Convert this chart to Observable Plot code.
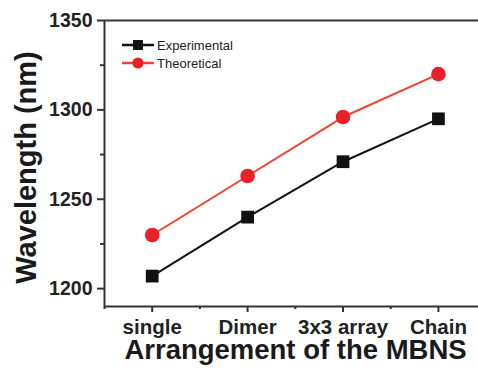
<!DOCTYPE html>
<html>
<head>
<meta charset="utf-8">
<script src="https://cdn.jsdelivr.net/npm/d3@7"></script>
<script src="https://cdn.jsdelivr.net/npm/@observablehq/plot@0.6"></script>
<style>
  html, body { margin: 0; padding: 0; background: #fff; }
  #chart svg { display: block; }
</style>
</head>
<body>
<div id="chart"></div>
<script>
// Resonance wavelength for each MBNS arrangement
const categories = ["single", "Dimer", "3x3 array", "Chain"];
const experimental = [1207, 1240, 1271, 1295];
const theoretical = [1230, 1263, 1296, 1320];
const yTicks = [1200, 1250, 1300, 1350];
const yMinorTicks = [1225, 1275, 1325];
const seriesNames = ["Experimental", "Theoretical"];

const expColor = "#111111";
const theoLine = "#f0432e";
const theoDot = "#e8202a";
const axisColor = "#333333";
const font = "'Liberation Sans', Arial, sans-serif";

const expData = categories.map((c, i) => ({i, value: experimental[i]}));
const theoData = categories.map((c, i) => ({i, value: theoretical[i]}));

const chart = Plot.plot({
  width: 478,
  height: 374,
  marginLeft: 104,
  marginRight: 0,
  marginTop: 20,
  marginBottom: 68,
  style: {fontFamily: font, color: "#222", background: "#fff"},
  x: {domain: [-0.5, 3.42]},
  y: {domain: [1190, 1350]},
  marks: [
    // frame lines: left, top and bottom
    Plot.ruleX([-0.5], {stroke: axisColor, strokeWidth: 2}),
    Plot.ruleY([1190, 1350], {stroke: axisColor, strokeWidth: 2}),
    // y axis
    Plot.axisY({
      ticks: yTicks, tickSize: 7, tickPadding: 5, tickFormat: d => String(d),
      stroke: axisColor, strokeWidth: 2, fontSize: 19.5, fontWeight: "bold",
      fill: "#222", label: null
    }),
    Plot.axisY({ticks: yMinorTicks, tickSize: 4, tickFormat: () => "", stroke: axisColor, strokeWidth: 2, label: null}),
    // x axis
    Plot.axisX({
      ticks: [0, 1, 2, 3], tickSize: 6, tickPadding: 7, tickFormat: i => categories[i],
      stroke: axisColor, strokeWidth: 2, fontSize: 20.5, fontWeight: "bold",
      fill: "#222", label: null
    }),
    Plot.axisX({ticks: [-0.5, 0.5, 1.5, 2.5], tickSize: 3, tickFormat: () => "", stroke: axisColor, strokeWidth: 2, label: null}),
    // axis titles
    Plot.text(["Arrangement of the MBNS"], {
      frameAnchor: "bottom", dx: 4, dy: 52, fontSize: 27.5, fontWeight: "bold", fill: "#1a1a1a"
    }),
    Plot.text(["Wavelength (nm)"], {
      frameAnchor: "left", textAnchor: "middle", rotate: -90, dx: -78, dy: 4,
      fontSize: 29, fontWeight: "bold", fill: "#1a1a1a"
    }),
    // series
    Plot.line(theoData, {x: "i", y: "value", stroke: theoLine, strokeWidth: 2}),
    Plot.line(expData, {x: "i", y: "value", stroke: expColor, strokeWidth: 2}),
    Plot.dot(theoData, {x: "i", y: "value", symbol: "circle", r: 7.3, fill: theoDot, stroke: "none"}),
    Plot.dot(expData, {x: "i", y: "value", symbol: "square", r: 7.2, fill: expColor, stroke: "none"})
  ]
});

// legend in the upper-left corner of the frame
const svg = d3.select(chart);
const legendItems = [
  {name: seriesNames[0], line: expColor, fill: expColor, symbol: d3.symbolSquare, r: 5.6},
  {name: seriesNames[1], line: theoLine, fill: theoDot, symbol: d3.symbolCircle, r: 5.6}
];
const legend = svg.append("g").attr("transform", "translate(122,45)");
legendItems.forEach((d, k) => {
  const g = legend.append("g").attr("transform", `translate(0,${k * 18})`);
  g.append("line").attr("x1", 0).attr("x2", 32).attr("y1", 0).attr("y2", 0)
    .attr("stroke", d.line).attr("stroke-width", 2.5);
  g.append("path").attr("transform", "translate(16,0)")
    .attr("d", d3.symbol(d.symbol, Math.PI * d.r * d.r)()).attr("fill", d.fill);
  g.append("text").attr("x", 35).attr("y", 0).attr("dy", "0.35em")
    .attr("text-anchor", "start")
    .attr("font-size", 13).attr("font-family", font).attr("fill", "#222")
    .text(d.name);
});

document.getElementById("chart").appendChild(chart);
</script>
</body>
</html>
